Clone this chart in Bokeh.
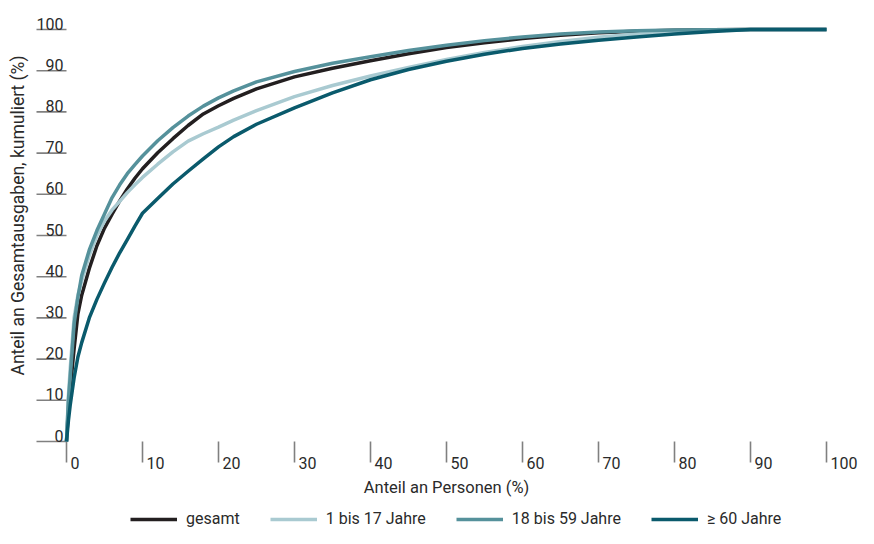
import numpy as np
from bokeh.plotting import figure
from bokeh.models import Range1d, Legend, LegendItem, ColumnDataSource
from bokeh.core.properties import value
from bokeh.embed import file_html
from bokeh.resources import INLINE

# ---------------- data ----------------
share_persons = [0, 0.25, 0.5, 1, 1.5, 2, 3, 4, 5, 6, 7, 8, 9, 10, 12, 14, 16, 18, 20,
                 22, 25, 30, 35, 40, 45, 50, 55, 60, 65, 70, 75, 80, 85, 90, 95, 100]

gesamt = [0, 8, 13, 22.5, 31, 35.5, 42, 47.5, 51.8, 55.2, 58.4, 61.3, 63.9, 66.2, 70.1, 73.5, 76.7, 79.5, 81.5,
          83.3, 85.6, 88.5, 90.6, 92.4, 94.1, 95.6, 96.8, 97.8, 98.6, 99.2, 99.6, 99.8, 99.95, 100, 100, 100]

age_1_17 = [0, 11, 18, 30, 35.5, 39, 45.2, 50, 53.5, 56.2, 58.3, 60.4, 62.3, 64.1, 67.3, 70.3, 72.9, 74.7, 76.3,
            78, 80.3, 83.7, 86.4, 88.7, 90.8, 92.7, 94.4, 95.9, 97.1, 98.1, 98.9, 99.5, 99.85, 100, 100, 100]

age_18_59 = [0, 10, 16, 28.5, 35, 40.3, 46.5, 51.2, 55.2, 59.2, 62.3, 65, 67.2, 69.3, 73, 76.2, 79, 81.4, 83.4,
             85.1, 87.3, 89.8, 91.8, 93.4, 94.9, 96.2, 97.3, 98.2, 98.9, 99.4, 99.7, 99.85, 99.95, 100, 100, 100]

age_60_plus = [0, 5, 9, 15.5, 20.5, 24, 30, 34.5, 38.5, 42.3, 45.8, 49, 52.3, 55.4, 59, 62.5, 65.6, 68.6, 71.5,
               74, 77, 81, 84.6, 87.8, 90.3, 92.3, 94, 95.4, 96.5, 97.4, 98.2, 98.9, 99.5, 100, 100, 100]

series_names = ["gesamt", "1 bis 17 Jahre", "18 bis 59 Jahre", "\u2265 60 Jahre"]
series_colors = ["#231f20", "#a9cad1", "#55919b", "#0a5a6c"]

x_ticks = [0, 10, 20, 30, 40, 50, 60, 70, 80, 90, 100]
x_tick_labels = [str(t) for t in x_ticks]
y_ticks = [0, 10, 20, 30, 40, 50, 60, 70, 80, 90, 100]
y_tick_labels = [str(t) for t in y_ticks]

x_title = "Anteil an Personen (%)"
y_title = "Anteil an Gesamtausgaben, kumuliert (%)"

# ---------------- layout ----------------
W, H = 858, 528
X0_PX, X100_PX = 66, 826      # screen x of data 0 and 100
Y100_PX, Y0_PX = 29, 441      # screen y (from top) of data 100 and 0
sx = (X100_PX - X0_PX) / 100.0
sy = (Y0_PX - Y100_PX) / 100.0

def data_x(px):
    return (px - X0_PX) / sx

def data_y(py):
    return (Y0_PX - py) / sy

FONT_NAME = "Roboto"
FONT = value(FONT_NAME)
TXT = "#2a2a2a"
TICK = "#808080"

p = figure(width=W, height=H, output_backend="svg", toolbar_location=None,
           x_axis_type=None, y_axis_type=None,
           x_range=Range1d(data_x(0), data_x(W)), y_range=Range1d(data_y(H), data_y(0)),
           min_border=0, min_border_left=0, min_border_right=0,
           min_border_top=0, min_border_bottom=0)
p.outline_line_color = None
p.background_fill_color = "white"
p.border_fill_color = "white"

# tick marks
p.ray(x=[0] * len(y_ticks), y=y_ticks, length=30, length_units="screen",
      angle=np.pi, line_color=TICK, line_width=1.6)
p.ray(x=x_ticks, y=[0] * len(x_ticks), length=21, length_units="screen",
      angle=-np.pi / 2, line_color=TICK, line_width=1.6)

# tick labels
p.text(x=[0] * len(y_ticks), y=y_ticks, text=y_tick_labels, x_offset=-3, y_offset=-6,
       text_align="right", text_baseline="alphabetic", text_font=FONT,
       text_font_size="16px", text_color=TXT)
p.text(x=x_ticks, y=[0] * len(x_ticks), text=x_tick_labels, x_offset=4, y_offset=21,
       text_align="left", text_baseline="alphabetic", text_font=FONT,
       text_font_size="16px", text_color=TXT)

# axis titles
p.text(x=[50], y=[data_y(487)], text=[x_title], text_align="center", text_baseline="middle",
       text_font=FONT, text_font_size="16.5px", text_color=TXT)
p.text(x=[data_x(17)], y=[data_y(215)], text=[y_title], angle=np.pi / 2,
       text_align="center", text_baseline="middle",
       text_font=FONT, text_font_size="17.5px", text_color=TXT)

# curves
all_series = [gesamt, age_1_17, age_18_59, age_60_plus]
renderers = []
for name, ys, col in zip(series_names, all_series, series_colors):
    src = ColumnDataSource(dict(x=share_persons, y=ys))
    r = p.line("x", "y", source=src, line_color=col, line_width=3.5, line_join="round")
    renderers.append(r)

legend = Legend(items=[LegendItem(label=n, renderers=[r]) for n, r in zip(series_names, renderers)],
                orientation="horizontal", location=(130, 0),
                padding=0, margin=0, spacing=30, label_standoff=9,
                glyph_width=47, glyph_height=18, label_height=18,
                border_line_color=None, background_fill_alpha=0,
                label_text_font=FONT_NAME, label_text_font_size="16px", label_text_color=TXT)
p.add_layout(legend)

open("out.html", "w").write(file_html(p, INLINE))
